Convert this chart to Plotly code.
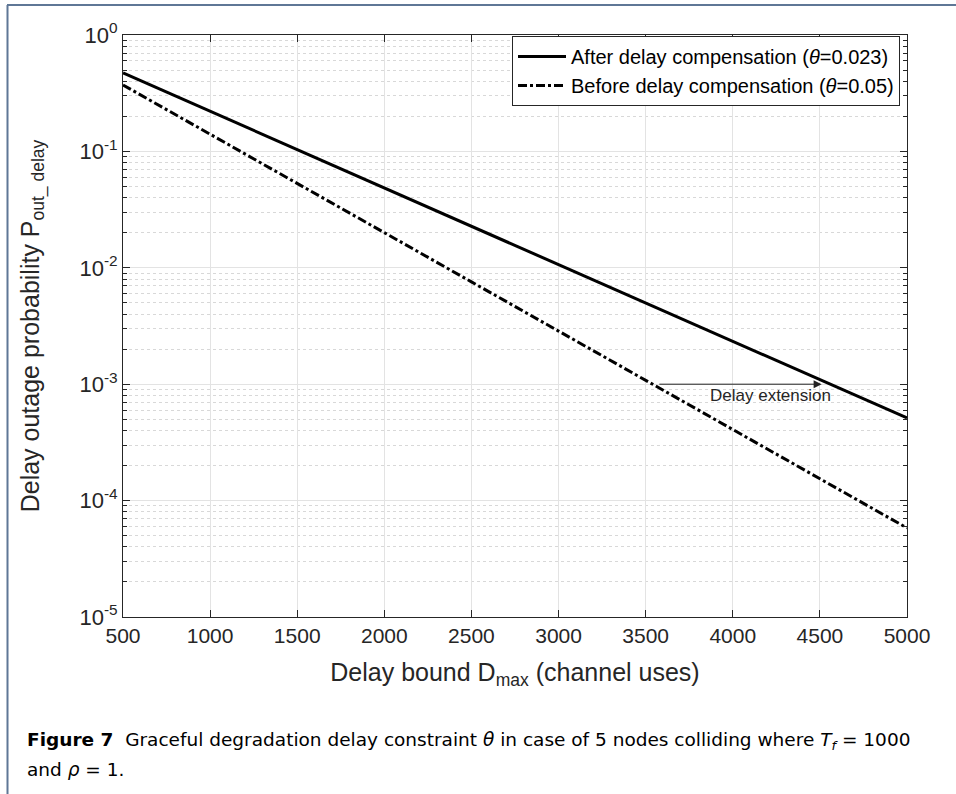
import plotly.graph_objects as go

# ---- data ----
delay_bound = [500, 1000, 1500, 2000, 2500, 3000, 3500, 4000, 4500, 5000]
after_comp = [0.472, 0.221, 0.1037, 0.0486, 0.0227, 0.01065, 0.00499, 0.00234, 0.001094, 0.000513]
before_comp = [0.372, 0.140, 0.0530, 0.0200, 0.00757, 0.00286, 0.00108, 0.000408, 0.000154, 0.0000582]
x_ticks = [500, 1000, 1500, 2000, 2500, 3000, 3500, 4000, 4500, 5000]
y_tick_vals = [1e-5, 1e-4, 1e-3, 1e-2, 1e-1, 1]
y_tick_text = ["10<sup>-5</sup>", "10<sup>-4</sup>", "10<sup>-3</sup>", "10<sup>-2</sup>", "10<sup>-1</sup>", "10<sup>0</sup>"]
decades = [1e-5, 1e-4, 1e-3, 1e-2, 1e-1]
mantissas = [2, 3, 4, 5, 6, 7, 8, 9]
y_minor_vals = [m * d for d in decades for m in mantissas]
arrow_start_x, arrow_end_x, arrow_y = 3570, 4510, 1e-3

W, H = 956, 794
L, R, T, B = 123, 49, 35, 177
PW, PH = W - L - R, H - T - B

def px(x):
    return (x - L) / PW

def py(y):
    return (H - B - y) / PH

AX = "#262626"
fig = go.Figure()
fig.add_trace(go.Scatter(x=delay_bound, y=after_comp, mode="lines",
                         name="After delay compensation (<i>θ</i>=0.023)",
                         line=dict(color="black", width=3)))
fig.add_trace(go.Scatter(x=delay_bound, y=before_comp, mode="lines",
                         name="Before delay compensation (<i>θ</i>=0.05)",
                         line=dict(color="black", width=3, dash="dashdot")))

fig.update_layout(
    width=W, height=H,
    margin=dict(l=L, r=R, t=T, b=B, pad=0),
    paper_bgcolor="white", plot_bgcolor="white",
    font=dict(family="Liberation Sans, Arial, sans-serif", color=AX),
    showlegend=True,
    legend=dict(x=px(512), y=py(36), xanchor="left", yanchor="top",
                bgcolor="white", bordercolor="#262626", borderwidth=1,
                font=dict(size=20, color="black"), tracegroupgap=0,
                itemwidth=48),
)

fig.update_xaxes(
    range=[500, 5000], tickvals=x_ticks, ticktext=[str(v) for v in x_ticks],
    showline=True, linecolor=AX, linewidth=1, mirror="ticks",
    ticks="inside", ticklen=7, tickcolor=AX,
    showgrid=True, gridcolor="#e3e3e3", gridwidth=1,
    tickfont=dict(size=21, color=AX), zeroline=False,
    title=dict(text="Delay bound D<sub>max</sub> (channel uses)", font=dict(size=25, color=AX), standoff=17),
)
fig.update_yaxes(
    type="log", range=[-5, 0], tickvals=y_tick_vals, ticktext=y_tick_text,
    showline=True, linecolor=AX, linewidth=1, mirror="ticks",
    ticks="inside", ticklen=7, tickcolor=AX,
    showgrid=True, gridcolor="#e3e3e3", gridwidth=1,
    tickfont=dict(size=22, color=AX), zeroline=False,
    minor=dict(tickvals=y_minor_vals, ticks="inside", ticklen=4, tickcolor=AX,
               showgrid=True, gridcolor="#d8d8d8", griddash="dot", gridwidth=1),
    title=dict(text="Delay outage probability P<sub>out_ delay</sub>", font=dict(size=25, color=AX), standoff=32),
)

# arrow "Delay extension"
fig.add_annotation(x=arrow_end_x, y=-3, ax=arrow_start_x, ay=-3,
                   xref="x", yref="y", axref="x", ayref="y",
                   showarrow=True, arrowhead=2, arrowsize=1.6, arrowwidth=1,
                   arrowcolor="#222222", text="")
fig.add_annotation(x=4214, y=-3.093, xref="x", yref="y", text="Delay extension",
                   showarrow=False, font=dict(size=17, color=AX))

# page border
fig.add_shape(type="line", xref="paper", yref="paper", x0=px(7.5), x1=px(7.5), y0=py(5), y1=py(794),
              line=dict(color="#5f7796", width=2))
fig.add_shape(type="line", xref="paper", yref="paper", x0=px(7), x1=px(956), y0=py(5), y1=py(5),
              line=dict(color="#5f7796", width=2))

# caption
cap_font = dict(family="DejaVu Sans, sans-serif", size=18.5, color="black")
fig.add_annotation(x=px(25), y=py(741), xref="paper", yref="paper", xanchor="left", yanchor="middle",
                   showarrow=False, font=cap_font,
                   text="<b>Figure 7</b>  Graceful degradation delay constraint <i>θ</i> in case of 5 nodes colliding where <i>T<sub>f</sub></i> = 1000")
fig.add_annotation(x=px(25), y=py(769), xref="paper", yref="paper", xanchor="left", yanchor="middle",
                   showarrow=False, font=cap_font,
                   text="and <i>ρ</i> = 1.")

fig.write_html("out.html")
